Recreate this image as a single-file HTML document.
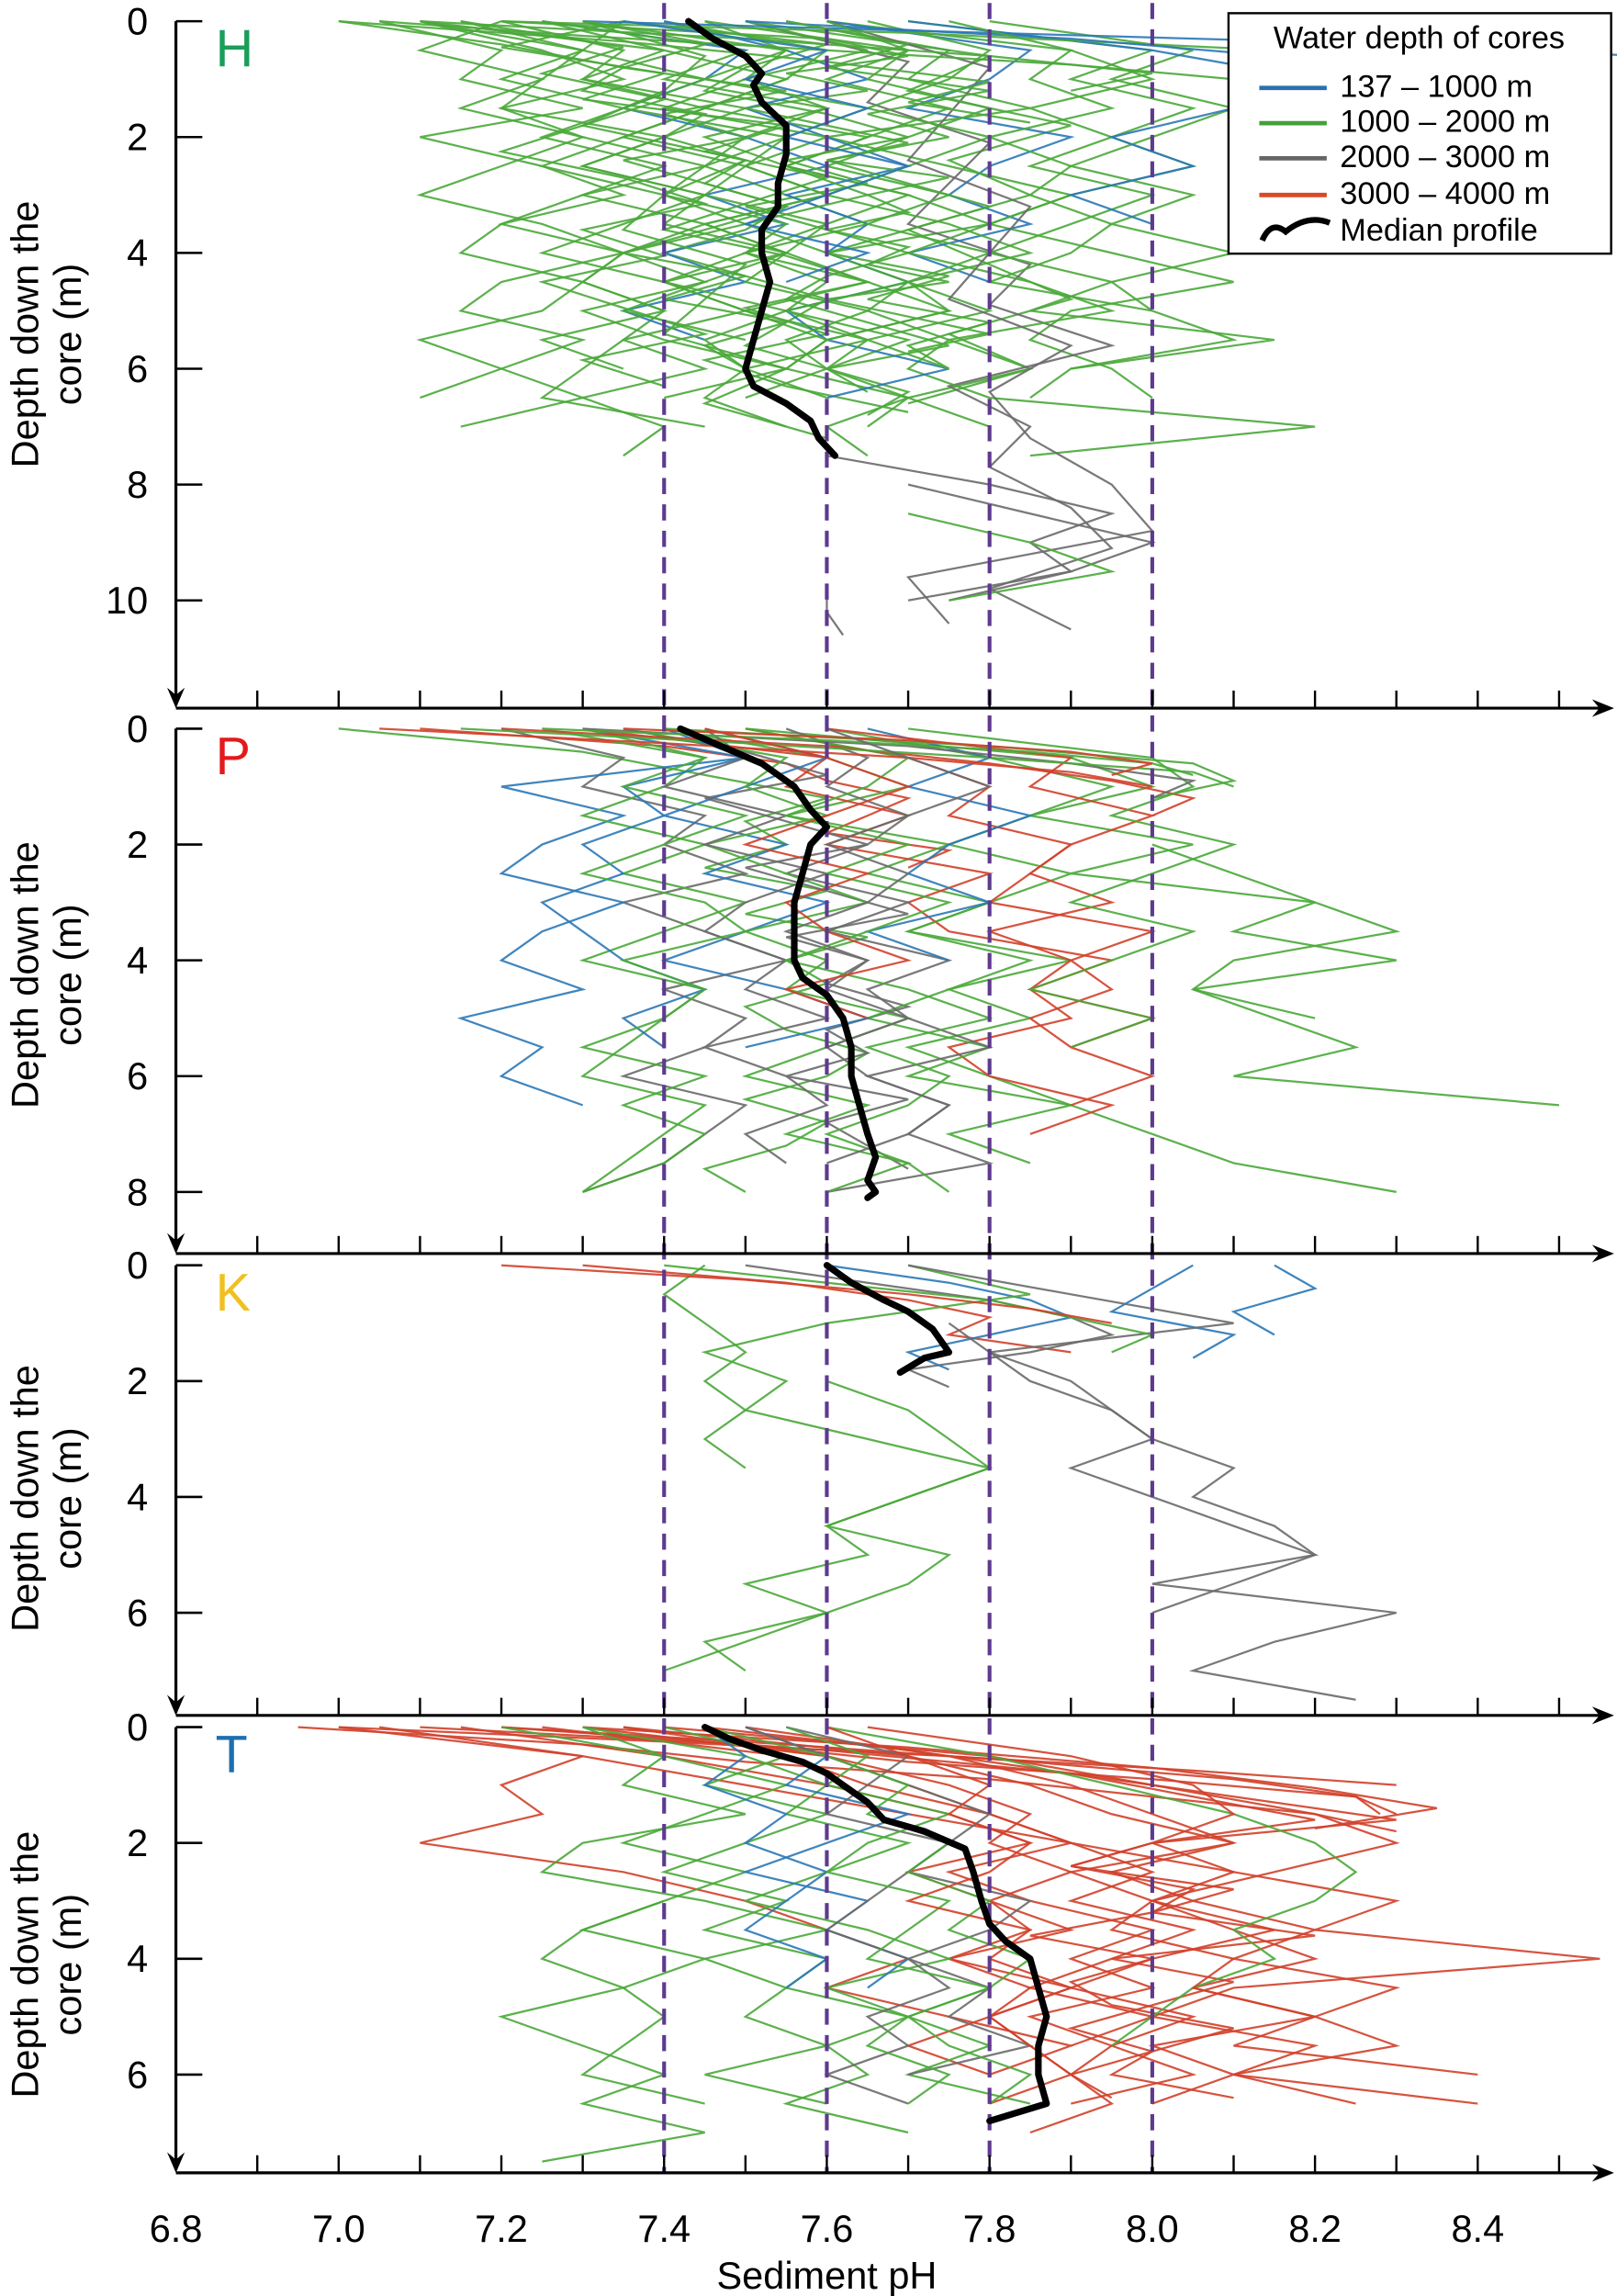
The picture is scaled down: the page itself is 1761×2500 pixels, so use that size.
<!DOCTYPE html>
<html><head><meta charset="utf-8"><style>
html,body{margin:0;padding:0;background:#fff;}
svg{display:block;}
text{font-family:"Liberation Sans",Arial,sans-serif;}
</style></head>
<body>
<svg id="chart" width="1761" height="2500" viewBox="0 0 1103 1566" preserveAspectRatio="none" xmlns="http://www.w3.org/2000/svg">
<g id="profiles"></g>
<g id="dashes"></g>
<g id="medians"></g>
<g id="axes"></g>
<g id="legend">
  <rect x="838" y="9" width="261" height="164" fill="#fff" stroke="#000" stroke-width="1.5"/>
  <text x="968" y="33" font-size="21.5" text-anchor="middle">Water depth of cores</text>
  <line x1="859" y1="60" x2="905" y2="60" stroke="#2b6fb0" stroke-width="3"/>
  <text x="914" y="66" font-size="21.5">137 – 1000 m</text>
  <line x1="859" y1="84" x2="905" y2="84" stroke="#43a03a" stroke-width="3"/>
  <text x="914" y="90" font-size="21.5">1000 – 2000 m</text>
  <line x1="859" y1="108" x2="905" y2="108" stroke="#666" stroke-width="3"/>
  <text x="914" y="114" font-size="21.5">2000 – 3000 m</text>
  <line x1="859" y1="133" x2="905" y2="133" stroke="#d84a26" stroke-width="3"/>
  <text x="914" y="139" font-size="21.5">3000 – 4000 m</text>
  <path d="M861,164 Q867,150 877,158 Q892,146 907,152" fill="none" stroke="#000" stroke-width="4"/>
  <text x="914" y="164" font-size="21.5">Median profile</text>
</g>
</svg>
<script>
const colors = ["#2b78b6", "#4aa83a", "#6a6a6a", "#d2402a"];
const pHTicks = ["6.8","7.0","7.2","7.4","7.6","7.8","8.0","8.2","8.4"];
const refLines = [7.4, 7.6, 7.8, 8.0];
const panelNames = ["H","P","K","T"];
const panelLetterColors = ["#1a9e5a","#e31a1c","#f0c020","#1f6fb0"];
const depthTicksH = [0,2,4,6,8,10];
const depthTicksP = [0,2,4,6,8];
const depthTicksK = [0,2,4,6];
const depthTicksT = [0,2,4,6];

const medH_depth = [0,0.3,0.6,0.9,1.1,1.4,1.8,2.3,2.8,3.2,3.6,4.0,4.5,5.0,5.5,6.0,6.3,6.6,6.9,7.2,7.5];
const medH_pH    = [7.43,7.46,7.5,7.52,7.51,7.52,7.55,7.55,7.54,7.54,7.52,7.52,7.53,7.52,7.51,7.5,7.51,7.55,7.58,7.59,7.61];
const medP_depth = [0,0.3,0.6,1.0,1.4,1.7,2.0,2.5,3.0,3.5,4.0,4.3,4.6,5.0,5.5,6.0,6.5,7.0,7.4,7.8,8.0,8.1];
const medP_pH    = [7.42,7.47,7.52,7.56,7.58,7.6,7.58,7.57,7.56,7.56,7.56,7.57,7.6,7.62,7.63,7.63,7.64,7.65,7.66,7.65,7.66,7.65];
const medK_depth = [0,0.3,0.6,0.8,1.1,1.5,1.6,1.85];
const medK_pH    = [7.6,7.63,7.67,7.7,7.73,7.75,7.72,7.69];
const medT_depth = [0,0.2,0.4,0.6,0.8,1.0,1.3,1.6,1.8,2.1,2.5,3.0,3.4,3.7,4.0,4.5,5.0,5.5,6.0,6.5,6.8];
const medT_pH    = [7.45,7.48,7.52,7.57,7.6,7.62,7.65,7.67,7.72,7.77,7.78,7.79,7.8,7.82,7.85,7.86,7.87,7.86,7.86,7.87,7.8];

const coresH = [
[1,0,0.5,7.15,7.3,7.2,7.35,7.25,7.4,7.3,7.45,7.35,7.3,7.4,7.35,7.45,7.3,7.4,7.35],
[1,0,0.5,7.3,7.5,7.4,7.6,7.5,7.45,7.55,7.65,7.5,7.6,7.55,7.7,7.6,7.5],
[1,0,0.6,7.5,7.8,7.7,7.9,7.75,7.85,7.7,7.8,7.9,7.75,7.85,7.7],
[1,0,0.5,7.2,7.1,7.25,7.15,7.3,7.2,7.1,7.25,7.35,7.2,7.15,7.3,7.2,7.1],
[1,0,0.4,7.0,7.2,7.35,7.3,7.45,7.4,7.5,7.45,7.55,7.5,7.4,7.5,7.6,7.55,7.5,7.6,7.65],
[1,0,0.5,7.6,7.9,8.0,7.85,7.95,8.05,7.9,7.8,7.95,8.1,7.9,7.85,7.95,8.0],
[0,0,0.5,7.25,7.5,7.45,7.35,7.5,7.6,7.45,7.55,7.4,7.5,7.35,7.45],
[1,0,0.45,7.35,7.2,7.4,7.3,7.55,7.45,7.6,7.5,7.4,7.55,7.65,7.5,7.6,7.45,7.55,7.7],
[1,0,0.5,7.45,7.7,7.6,7.75,7.65,7.55,7.7,7.8,7.6,7.7,7.65,7.75,7.85,7.7,7.8],
[1,0,0.5,7.1,7.3,7.25,7.2,7.4,7.3,7.45,7.35,7.25,7.4,7.5,7.35,7.3,7.25,7.45],
[2,0,0.7,7.5,7.7,7.65,7.8,7.75,7.7,7.85,7.8,7.95,7.75,7.85,7.8,7.9,7.95,7.8,7.9],
[1,0,0.5,7.7,8.0,7.9,8.05,7.95,7.85,8.0,7.9,7.8,7.95,7.85,8.15,7.9,7.85],
[1,0,0.5,7.05,7.2,7.15,7.3,7.1,7.25,7.35,7.2,7.15,7.3,7.25,7.1,7.2,7.3,7.15],
[1,0,0.5,7.4,7.6,7.55,7.45,7.65,7.55,7.7,7.6,7.5,7.65,7.75,7.6,7.55,7.7,7.6,7.65],
[0,0,0.5,7.6,7.85,7.8,7.7,7.9,7.8,7.75,7.85,7.7,7.8],
[1,0,0.6,7.3,7.45,7.4,7.3,7.5,7.4,7.35,7.5,7.45,7.4,7.55,7.45,7.6],
[1,0,0.5,7.55,7.75,7.7,7.85,7.6,7.75,7.9,7.8,7.7,7.85,7.95,7.75,7.7,7.8,8.2,7.85],
[1,0,0.5,7.2,7.35,7.3,7.45,7.35,7.25,7.4,7.5,7.35,7.45,7.3,7.4,7.55,7.4],
[1,0,0.4,7.35,7.6,7.5,7.45,7.6,7.7,7.55,7.65,7.5,7.6,7.7,7.6,7.55,7.65,7.75,7.6,7.7,7.65],
[1,0,0.5,7.8,8.05,7.95,8.1,8.0,7.9,8.05,7.95,8.1,7.95,8.0],
[0,0,0.5,7.4,7.55,7.65,7.5,7.6,7.7,7.55,7.65,7.6,7.7,7.55,7.6,7.75,7.6],
[1,0,0.5,7.25,7.4,7.55,7.45,7.35,7.5,7.6,7.45,7.55,7.4,7.5,7.65,7.5,7.45,7.55],
[1,0,0.5,7.65,7.8,7.75,7.65,7.8,7.7,7.6,7.75,7.85,7.7,7.8,7.65,7.75],
[1,0,0.5,7.1,7.4,7.3,7.5,7.4,7.3,7.45,7.4,7.55,7.45,7.35,7.5],
[1,0,0.5,7.5,7.65,7.5,7.6,7.45,7.55,7.65,7.5,7.6,7.7,7.55,7.65,7.6,7.7,7.65],
[2,0,0.8,7.6,7.8,7.75,7.7,7.85,7.8,7.75,7.9,7.8,7.85,7.95,8.0,7.7,7.75],
[1,0,0.5,7.45,7.55,7.45,7.65,7.55,7.5,7.6,7.45,7.55,7.65,7.5,7.6,7.55],
[1,0,0.3,7.2,7.6,7.7,7.55,7.65,7.5,7.6,7.7,7.6,7.75,7.65,7.7,7.6,7.7,7.65,7.75,7.6,7.7,7.8,7.7],
[1,0,0.5,7.35,7.3,7.45,7.35,7.55,7.45,7.4,7.55,7.5,7.4,7.55,7.45,7.5,7.6],
[0,0,0.5,7.7,8.0,8.2,8.1,7.95,8.05,7.9,8.0],
[1,0,0.25,7.05,7.3,7.6,7.9,8.1],
[1,0,0.2,7.2,7.7,8.0,8.3],
[0,0,0.2,7.3,7.8,8.3,8.6],
[1,0,0.3,7.1,7.5,7.8,8.0,7.9],
[1,0,0.35,7.0,7.35,7.6,7.8,7.7,7.85],
[0,0,0.3,7.5,7.9,8.15,8.4,8.5],
[1,0,0.5,7.3,7.55,7.5,7.4,7.6,7.5,7.45,7.6,7.55,7.5,7.65,7.55,7.6],
[1,0,0.5,7.6,7.7,7.65,7.8,7.7,7.6,7.75,7.65,7.8,7.7,7.75,7.6],
[1,0,0.5,7.1,7.25,7.35,7.2,7.3,7.45,7.3,7.2,7.35,7.3,7.4,7.25,7.35],
[1,0,0.5,7.75,7.9,7.85,7.95,7.8,7.9,7.85,7.95,7.9,7.8,8.0,8.1,7.9],
[1,0,0.4,7.25,7.45,7.35,7.55,7.4,7.5,7.35,7.45,7.55,7.45,7.35,7.5,7.4,7.55,7.45,7.5],
[1,0,0.4,7.55,7.7,7.6,7.8,7.65,7.75,7.6,7.7,7.8,7.7,7.6,7.75,7.65,7.8,7.7,7.75],
[1,0,0.45,7.15,7.35,7.25,7.4,7.3,7.2,7.35,7.45,7.3,7.4,7.25,7.35,7.45,7.3,7.4],
[0,0,0.5,7.35,7.6,7.5,7.65,7.55,7.7,7.6,7.5,7.65,7.55],
[2,7.5,0.5,7.6,7.8,7.95,7.85,7.9,7.75],
[2,8,0.5,7.7,7.85,8.0,7.9,7.7],
[1,8.5,0.5,7.7,7.85,7.95,7.75],
[2,9.8,0.4,7.6,7.6,7.62]
];
const coresP = [
[1,0,0.4,7.0,7.3,7.45,7.6,7.5,7.55,7.45,7.6,7.5,7.65,7.55,7.6,7.5,7.55,7.65,7.6,7.5,7.6,7.55,7.45,7.5],
[3,0,0.3,7.1,7.4,7.55,7.6,7.7,7.65,7.6,7.75,7.7],
[2,0,0.5,7.2,7.35,7.3,7.45,7.4,7.5,7.35,7.45,7.55,7.4,7.5,7.45,7.35,7.5,7.45,7.4,7.3],
[0,0,0.5,7.3,7.5,7.2,7.35,7.25,7.2,7.35,7.25,7.2,7.3,7.15,7.25,7.2,7.3],
[1,0,0.5,7.5,7.9,8.0,7.85,8.05,7.9,8.2,8.1,8.3,8.05,8.15,8.25,8.1,8.5],
[1,0,0.5,7.4,7.6,7.7,7.55,7.75,7.65,7.8,7.7,7.9,7.75,7.85,7.7,7.8,7.9,8.0,8.1,8.3],
[3,0,0.5,7.3,7.6,7.55,7.7,7.6,7.8,7.7,7.75,7.95,7.85,7.9,7.75,7.8,7.95,7.85],
[2,0,0.4,7.35,7.5,7.6,7.45,7.55,7.65,7.5,7.6,7.7,7.55,7.65,7.6,7.7,7.6,7.65,7.55,7.7,7.6,7.65,7.7],
[1,0,0.5,7.6,7.8,7.95,7.85,7.75,7.9,7.8,7.7,7.85,7.75,7.65,7.8,7.7,7.9,7.75,7.85],
[0,0,0.5,7.45,7.6,7.5,7.4,7.55,7.45,7.6,7.5,7.4,7.55,7.65,7.5],
[3,0,0.5,7.5,7.7,7.8,7.75,7.9,7.85,7.8,8.0,7.9,7.95,7.85,7.9,8.0,7.9],
[1,0,0.5,7.25,7.45,7.4,7.3,7.45,7.35,7.5,7.4,7.3,7.45,7.4,7.35,7.3,7.45,7.4,7.35,7.3],
[2,0,0.5,7.55,7.65,7.6,7.7,7.65,7.55,7.7,7.6,7.75,7.65,7.7,7.8,7.65,7.75,7.7,7.8,7.6],
[0,0,0.5,7.65,7.8,7.7,7.85,7.75,7.7,7.8,7.65,7.75],
[1,0,0.5,7.35,7.55,7.5,7.6,7.45,7.55,7.65,7.5,7.6,7.55,7.7,7.6,7.5,7.65,7.55,7.7,7.6],
[3,0,0.5,7.6,7.9,7.85,8.0,7.9,7.85,7.95,7.8,7.9,7.85,8.0,7.9],
[1,0,0.5,7.7,8.0,8.05,7.95,8.1,8.0,7.9,8.05,7.95,7.85,8.0,7.9],
[0,0,0.5,7.4,7.5,7.35,7.4,7.3,7.35,7.25,7.3,7.35,7.45,7.35,7.4],
[2,0,0.5,7.45,7.5,7.4,7.55,7.45,7.6,7.5,7.45,7.55,7.5,7.6,7.45,7.55,7.6,7.5,7.55],
[1,0,0.5,7.5,7.7,7.65,7.55,7.7,7.6,7.75,7.65,7.55,7.7,7.8,7.65,7.75,7.7,7.6,7.7,7.75],
[1,0,0.5,7.3,7.45,7.35,7.5,7.4,7.3,7.45,7.5,7.35,7.45,7.4,7.3,7.45,7.35,7.45,7.4,7.3],
[3,0,0.3,7.2,7.6,7.8,7.95,8.05,8.0],
[1,0,0.3,7.4,7.8,8.05,8.1,8.0],
[2,0,0.3,7.3,7.7,7.9,8.05,8.0],
[3,0,0.25,7.05,7.4,7.7,7.9,8.0],
[1,0,0.25,7.15,7.5,7.8,8.05,8.1],
[1,0,0.2,7.25,7.6,7.85,8.0,8.05],
[3,0,0.2,7.35,7.7,7.9,8.0,7.95],
[1,2,0.5,8.0,8.1,8.2,8.3,8.1,8.05,8.2],
[2,0,0.5,7.6,7.7,7.8,7.7,7.6,7.7,7.65,7.55,7.65,7.6,7.7,7.6,7.65,7.75,7.7,7.6],
[3,0,0.5,7.45,7.6,7.7,7.6,7.5,7.65,7.55,7.6,7.7,7.55,7.65]
];
const coresK = [
[3,0,0.3,7.3,7.55,7.7,7.8,7.75,7.9],
[2,0,0.3,7.5,7.65,7.8,7.9,7.95,7.85,7.7,7.75],
[0,0,0.3,7.6,7.75,7.85,7.9,7.8,7.7,7.75],
[0,0,0.4,8.05,8.0,7.95,8.1,8.05],
[0,0,0.4,8.15,8.2,8.1,8.15],
[1,0,0.5,7.45,7.4,7.45,7.5,7.45,7.5,7.45,7.5],
[1,0,0.5,7.7,7.85,7.6,7.45,7.55,7.5,7.65,7.8,7.7,7.6,7.65,7.5,7.6,7.45,7.5],
[2,0,0.5,7.7,7.9,8.1,7.8,7.85,7.95,8.0,7.9,8.0,8.1,8.2,8.0,8.3,8.15,8.05,8.25],
[2,1,0.5,7.75,7.8,7.9,7.95,8.0,8.1,8.05,8.15,8.2,8.1,8.0],
[1,0,0.3,7.4,7.6,7.8,7.9,8.0,7.95],
[3,0,0.25,7.2,7.5,7.7,7.85,7.95],
[1,2,0.5,7.6,7.7,7.75,7.8,7.7,7.6,7.75,7.7,7.6,7.5,7.4]
];
const coresT = [
[3,0,0.5,7.0,7.3,7.5,7.7,7.9,8.1,8.3,8.2,8.55,8.1,8.0,8.2,8.1,8.4],
[3,0,0.4,7.2,7.6,7.9,8.1,8.3,8.0,7.9,8.1,8.0,8.2,7.95,8.1,8.0,7.9,8.0,7.95,8.1],
[3,0,0.5,7.05,7.3,7.2,7.25,7.1,7.35,7.5,7.6,7.7,7.6,7.75,7.9,7.8],
[3,0,0.5,7.3,7.6,7.7,7.8,7.9,7.75,7.85,8.0,7.9,8.0,7.85,7.95,8.05,7.9],
[3,0,0.5,7.4,7.8,8.0,8.2,8.3,8.15,8.0,8.1,8.2,8.05,8.2,8.3,8.1,8.25],
[3,0,0.5,7.15,7.4,7.6,7.75,7.85,7.7,7.8,7.9,7.75,7.85,7.8,7.7,7.8],
[3,0,0.4,7.45,7.7,7.9,8.05,8.2,8.0,7.9,8.05,8.0,7.85,8.0,7.9,7.95,8.1,8.0,7.9,7.95],
[3,0,0.5,7.25,7.55,7.65,7.8,7.9,8.0,7.9,8.05,7.95,7.85,8.0,7.9],
[3,0,0.5,7.35,7.7,7.85,7.95,8.1,7.9,8.0,8.15,8.0,7.9,8.05,7.95,7.9],
[3,0,0.3,6.95,7.3,7.5,7.8,8.0,8.2,8.3],
[3,0,0.3,7.1,7.5,7.7,8.0,8.25,8.28],
[3,0,0.25,7.0,7.4,7.75,8.05,8.3],
[3,0,0.35,7.3,7.7,8.0,8.2,8.35,8.2],
[3,0,0.3,7.2,7.55,7.85,8.1,8.25,8.3],
[3,0,0.5,7.35,7.6,7.75,7.85,7.8,7.9,7.8,7.85,7.75,7.9,7.8,7.85,7.9,7.8],
[3,0,0.5,7.5,7.75,7.9,8.0,8.1,7.95,8.05,8.2,8.1,8.3,8.2,8.1,8.4],
[1,0,0.5,7.2,7.4,7.35,7.5,7.3,7.25,7.45,7.6,7.45,7.55,7.7,7.6,7.65,7.55,7.7],
[1,0,0.5,7.3,7.5,7.6,7.55,7.7,7.6,7.5,7.65,7.75,7.6,7.7,7.8,7.7,7.85],
[1,0,0.5,7.6,7.8,7.95,8.1,8.2,8.25,8.2,8.1,8.15,8.05,8.0,7.95],
[1,0,0.5,7.4,7.55,7.45,7.6,7.5,7.4,7.55,7.45,7.6,7.55,7.5,7.6,7.45,7.6],
[1,0,0.5,7.3,7.4,7.55,7.45,7.35,7.5,7.4,7.3,7.45,7.35,7.4,7.35,7.3,7.45],
[1,3,0.5,7.4,7.3,7.25,7.35,7.2,7.3,7.4,7.3,7.45,7.25],
[0,0,0.5,7.5,7.6,7.55,7.7,7.6,7.5,7.65,7.6,7.7,7.65],
[0,0,0.5,7.45,7.5,7.45,7.55,7.5,7.6,7.55,7.5,7.6,7.55],
[2,0,0.5,7.55,7.7,7.65,7.6,7.75,7.7,7.65,7.6,7.7,7.75,7.65,7.7,7.6,7.7],
[2,0,0.5,7.5,7.6,7.7,7.8,7.75,7.7,7.85,7.8,7.7,7.8,7.75,7.85,7.7],
[1,0,0.5,7.45,7.6,7.7,7.65,7.75,7.7,7.8,7.75,7.85,7.8,7.7,7.75,7.85,7.8],
[1,0,0.5,7.55,7.65,7.6,7.75,7.65,7.6,7.75,7.7,7.65,7.8,7.7,7.65,7.75,7.7],
[3,0,0.5,7.6,7.7,7.8,7.75,7.85,7.8,7.7,7.85,7.8,7.9,7.8,7.85,7.9,7.95,7.85],
[3,0,0.5,7.65,7.9,8.05,8.1,8.0,8.1,8.0,7.95,8.1,8.05,8.2,8.0,8.1,8.0]
];

const NS = "http://www.w3.org/2000/svg";
const X0 = 120, PX_PER_PH = 555;
function xScale(ph){ return X0 + (ph - 6.8) * PX_PER_PH; }
const panels = [
  {y0:14.5, ppm:39.5, axisY:483, ticks:depthTicksH, cores:coresH, md:medH_depth, mp:medH_pH, mid:228},
  {y0:497, ppm:39.5, axisY:855, ticks:depthTicksP, cores:coresP, md:medP_depth, mp:medP_pH, mid:665},
  {y0:863, ppm:39.5, axisY:1170, ticks:depthTicksK, cores:coresK, md:medK_depth, mp:medK_pH, mid:1022},
  {y0:1178, ppm:39.5, axisY:1482, ticks:depthTicksT, cores:coresT, md:medT_depth, mp:medT_pH, mid:1340}
];
function mk(tag, attrs, parent){
  const e = document.createElementNS(NS, tag);
  for (const k in attrs) e.setAttribute(k, attrs[k]);
  parent.appendChild(e);
  return e;
}
const gProf = document.getElementById('profiles');
const gMed = document.getElementById('medians');
const gAx = document.getElementById('axes');
const gDash = document.getElementById('dashes');

panels.forEach((p, pi) => {
  const yS = d => p.y0 + d * p.ppm;
  p.cores.forEach((c, ci) => {
    const pts = [];
    for (let i = 3; i < c.length; i++) pts.push(xScale(c[i]).toFixed(1) + ',' + yS(c[1] + (i-3)*c[2]).toFixed(1));
    const pl = mk('polyline', {points: pts.join(' '), fill:'none', stroke: colors[c[0]], 'stroke-width':1.4, 'stroke-opacity':0.9}, gProf);
    
    
  });
  const mpts = p.md.map((d, i) => xScale(p.mp[i]).toFixed(1) + ',' + yS(d).toFixed(1));
  const med = mk('polyline', {points: mpts.join(' '), fill:'none', stroke:'#000', 'stroke-width':4.5, 'stroke-linejoin':'round', 'stroke-linecap':'round'}, gMed);
  
  

  const ya = mk('line', {x1:X0, y1:p.y0, x2:X0, y2:p.axisY-2, stroke:'#000', 'stroke-width':2}, gAx);
  
  
  const arr = mk('path', {d:`M${X0-6},${p.axisY-14} L${X0},${p.axisY} L${X0+6},${p.axisY-14} L${X0},${p.axisY-9} Z`, fill:'#000'}, gAx);
  
  
  p.ticks.forEach(t => {
    const tl = mk('line', {x1:X0, y1:yS(t), x2:X0+18, y2:yS(t), stroke:'#000', 'stroke-width':1.6}, gAx);
    
    
    const tx = mk('text', {x:101, y:yS(t)+9, 'font-size':26, 'text-anchor':'end'}, gAx);
    tx.textContent = t;
    
    
  });
  const xa = mk('line', {x1:X0, y1:p.axisY, x2:1092, y2:p.axisY, stroke:'#000', 'stroke-width':2}, gAx);
  
  
  const xarr = mk('path', {d:`M1086,${p.axisY-6} L1101,${p.axisY} L1086,${p.axisY+6} L1091,${p.axisY} Z`, fill:'#000'}, gAx);
  
  
  for (let k = 1; k <= 17; k++) {
    const xv = xScale(6.8 + k*0.1);
    const xt = mk('line', {x1:xv, y1:p.axisY, x2:xv, y2:p.axisY-12, stroke:'#000', 'stroke-width':1.5}, gAx);
    
    
  }
  const lt = mk('text', {x:147, y:p.y0+31, 'font-size':36, fill:panelLetterColors[pi]}, gAx);
  lt.textContent = panelNames[pi];
  
  
  const t1 = mk('text', {x:0, y:0, 'font-size':26, 'text-anchor':'middle', transform:`translate(26,${p.mid}) rotate(-90)`}, gAx);
  t1.textContent = 'Depth down the';
  
  
  const t2 = mk('text', {x:0, y:0, 'font-size':26, 'text-anchor':'middle', transform:`translate(55,${p.mid}) rotate(-90)`}, gAx);
  t2.textContent = 'core (m)';
  
  
});

refLines.forEach(v => {
  const l = mk('line', {x1:xScale(v), y1:2, x2:xScale(v), y2:1482, stroke:'#5e3a8e', 'stroke-width':2.6, 'stroke-dasharray':'11 7'}, gDash);
  
  
});

pHTicks.forEach(s => {
  const t = mk('text', {x:xScale(parseFloat(s)), y:1529, 'font-size':26, 'text-anchor':'middle'}, gAx);
  t.textContent = s;
  
  
});
const xt = mk('text', {x:564, y:1561, 'font-size':26, 'text-anchor':'middle'}, gAx);
xt.textContent = 'Sediment  pH';


</script>
</body></html>
